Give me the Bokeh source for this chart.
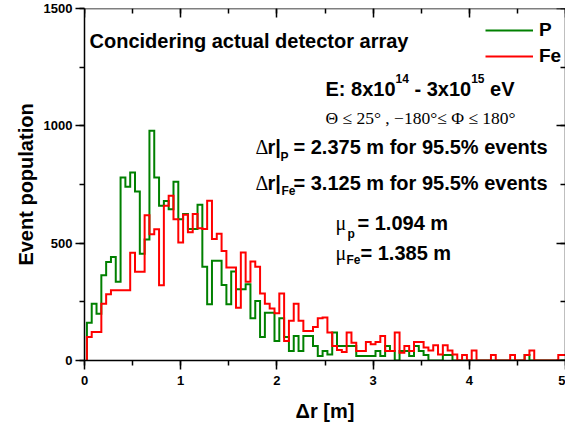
import numpy as np
from bokeh.plotting import figure
from bokeh.models import (ColumnDataSource, Label, LinearAxis, SingleIntervalTicker,
                          Range1d, Legend, LegendItem)
from bokeh.embed import file_html
from bokeh.resources import INLINE

# ---------------- data ----------------
bin_width = 0.05
bin_centers = np.round(np.arange(1, 101) * bin_width, 3)

p_counts = [161, 242, 199, 363, 420, 441, 336, 780, 740, 801,
            720, 455, 516, 979, 780, 659, 680, 645, 762, 602,
            624, 560, 560, 664, 399, 240, 425, 425, 322, 240,
            379, 304, 304, 325, 180, 254, 100, 204, 204, 83,
            180, 100, 40, 104, 40, 104, 104, 62, 19, 40,
            26, 119, 62, 62, 62, 62, 19, 19, 19, 19,
            40, 19, 62, 40, 0, 40, 40, 19, 62, 40,
            23, 0, 0, 0, 23, 23, 0, 0, 0, 0,
            0, 0, 0, 0, 0, 0, 0, 0, 0, 0,
            0, 23, 0, 0, 0, 0, 0, 0, 0, 0]

fe_counts = [100, 121, 121, 242, 282, 299, 299, 299, 299, 459,
             378, 378, 619, 538, 559, 321, 659, 702, 602, 503,
             621, 546, 624, 564, 560, 681, 518, 540, 467, 396,
             396, 225, 460, 336, 422, 399, 286, 242, 222, 201,
             286, 83, 169, 242, 169, 126, 126, 143, 180, 183,
             119, 62, 45, 36, 119, 76, 40, 40, 79, 69,
             79, 104, 40, 40, 119, 33, 62, 40, 79, 79,
             55, 43, 65, 26, 65, 43, 26, 0, 23, 0,
             43, 0, 0, 0, 23, 0, 0, 0, 23, 0,
             0, 23, 43, 0, 0, 0, 0, 0, 23, 23]

series_names = ["P", "Fe"]
x_tick_step = 1
y_tick_step = 500


def outline(centers, counts):
    counts = np.asarray(counts, dtype=float)
    edges = np.concatenate([centers - bin_width / 2, [centers[-1] + bin_width / 2]])
    xs = np.repeat(edges, 2)
    ys = np.concatenate([[0.0], np.repeat(counts, 2), [0.0]])
    return xs, ys


# ---------------- figure ----------------
L, T, B = 84, 8, 63
FW, FH = 481, 352
X0, X1, Y0, Y1 = 0, 5, 0, 1500

FONT = "Liberation Sans"
SERIF = "Liberation Serif"

p = figure(frame_width=FW, frame_height=FH, x_range=Range1d(X0, X1), y_range=Range1d(Y0, Y1),
           output_backend="svg", toolbar_location=None,
           min_border_left=L, min_border_right=0, min_border_top=T, min_border_bottom=B,
           x_axis_label="Δr [m]", y_axis_label="Event population")
p.background_fill_color = "white"
p.border_fill_color = "white"
p.outline_line_color = None
p.xgrid.visible = False
p.ygrid.visible = False

xt = SingleIntervalTicker(interval=x_tick_step, num_minor_ticks=2)
yt = SingleIntervalTicker(interval=y_tick_step, num_minor_ticks=2)


def style_axis(ax, ticker, inward, labels):
    ax.ticker = ticker
    ax.axis_line_width = 1.5
    ax.axis_line_color = "black"
    ax.major_tick_line_width = 1.5
    ax.minor_tick_line_width = 1.5
    ax.major_tick_line_color = "black"
    ax.minor_tick_line_color = "black"
    if inward:
        ax.major_tick_in, ax.major_tick_out = 9, 0
        ax.minor_tick_in, ax.minor_tick_out = 5, 0
    else:
        ax.major_tick_in, ax.major_tick_out = 0, 9
        ax.minor_tick_in, ax.minor_tick_out = 0, 5
    if labels:
        ax.major_label_text_font = FONT
        ax.major_label_text_font_style = "bold"
        ax.major_label_text_font_size = "13px"
        ax.major_label_text_color = "black"
    else:
        ax.major_label_text_font_size = "0px"
        ax.major_label_text_color = None
        ax.major_label_standoff = 0
        ax.axis_label_standoff = 0
        ax.axis_label = None


style_axis(p.xaxis[0], xt, False, True)
style_axis(p.yaxis[0], yt, False, True)
p.xaxis[0].major_label_standoff = 6
p.yaxis[0].major_label_standoff = 3
for ax in (p.xaxis[0], p.yaxis[0]):
    ax.axis_label_text_font = FONT
    ax.axis_label_text_font_style = "bold"
    ax.axis_label_text_font_size = "20px"
    ax.axis_label_text_color = "black"
p.xaxis[0].axis_label_standoff = 12
p.yaxis[0].axis_label_standoff = 4

# mirrored frame axes (ticks pointing into the plot), pinned to the range ends
top_ax = LinearAxis(fixed_location=Y1)
style_axis(top_ax, SingleIntervalTicker(interval=x_tick_step, num_minor_ticks=2), True, False)
p.add_layout(top_ax, "above")
right_ax = LinearAxis(fixed_location=X1)
style_axis(right_ax, SingleIntervalTicker(interval=y_tick_step, num_minor_ticks=2), True, False)
p.add_layout(right_ax, "right")

# ---------------- histograms ----------------
colors = {"P": "#008000", "Fe": "#ff0000"}
renderers = {}
for name, counts in (("P", p_counts), ("Fe", fe_counts)):
    xs, ys = outline(bin_centers, counts)
    src = ColumnDataSource(dict(x=xs, y=ys))
    renderers[name] = p.line("x", "y", source=src, line_color=colors[name],
                             line_width=2, line_join="miter")

legend = Legend(items=[LegendItem(label=n, renderers=[renderers[n]]) for n in series_names],
                location=(401, 293), margin=0, padding=0, spacing=4,
                glyph_width=48, glyph_height=22, label_height=22, label_standoff=6,
                label_text_font=FONT, label_text_font_style="bold",
                label_text_font_size="19px", label_text_color="black",
                background_fill_alpha=0, border_line_color=None)
p.add_layout(legend)

# ---------------- text annotations ----------------


def X(px):
    return (px - L) / FW * (X1 - X0) + X0


def Y(py):
    return (T + FH - py) / FH * (Y1 - Y0) + Y0


WIDTHS = {' ': 278, '%': 889, '-': 333, '.': 278, ':': 333, '=': 584, 'E': 667, 'F': 611,
          'P': 667, 'V': 667, 'e': 556, 'f': 333, 'm': 889, 'n': 611, 'o': 611, 'p': 611,
          'r': 389, 's': 556, 't': 333, 'v': 556, 'x': 556}
for d in "0123456789":
    WIDTHS[d] = 556


def tw(s, size):
    return sum(WIDTHS.get(c, 600) for c in s) * size / 1000.0


def txt(px, py, s, size=20, font=FONT, style="bold"):
    p.add_layout(Label(x=X(px), y=Y(py), text=s, text_font=font, text_font_style=style,
                       text_font_size=f"{size}px", text_color="black",
                       text_baseline="alphabetic", text_align="left"))


txt(89, 40, "Concidering actual detector array", 20)

# energy range with superscripts (leading spaces are advanced, not drawn)
pieces = [("E: 8x10", 20, 0), ("14", 12, -10), (" - 3x10", 20, 0), ("15", 12, -10), (" eV", 20, 0)]
cx = 325
for s, size, dy in pieces:
    lead = len(s) - len(s.lstrip(" "))
    cx += tw(" " * lead, size)
    body = s.lstrip(" ")
    txt(cx, 88 + dy, body, size)
    cx += tw(body, size)

txt(325, 117, "Θ ≤ 25° , −180°≤ Φ ≤ 180°", 17.5, SERIF, "normal")

txt(255, 146, "Δ", 20, SERIF, "normal")
txt(267, 146, "r|", 20)
txt(280, 156, "P", 12)
txt(293, 146, "= 2.375 m for 95.5% events", 20)

txt(255, 182, "Δ", 20, SERIF, "normal")
txt(267, 182, "r|", 20)
txt(281, 190, "Fe", 12)
txt(293, 182, "= 3.125 m for 95.5% events", 20)

txt(335, 222, "μ", 20, SERIF, "normal")
txt(347, 233, "p", 12)
txt(357, 222, "= 1.094 m", 20)

txt(335, 252, "μ", 20, SERIF, "normal")
txt(346, 259, "Fe", 12)
txt(360, 252, "= 1.385 m", 20)

open("out.html", "w").write(file_html(p, INLINE))
